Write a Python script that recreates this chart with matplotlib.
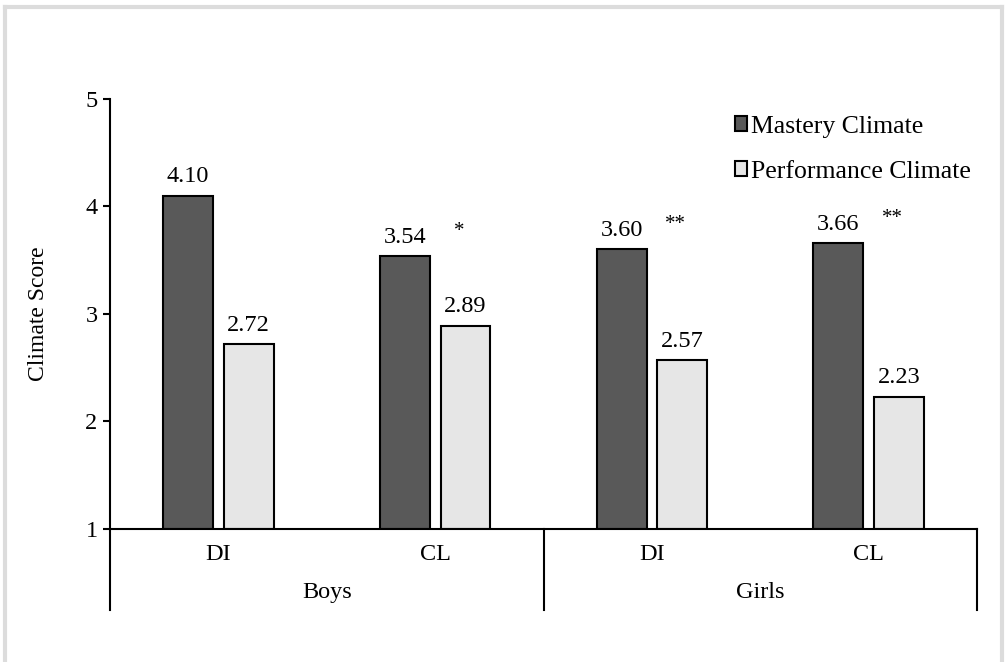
import matplotlib
matplotlib.use("Agg")
import matplotlib.pyplot as plt
from matplotlib.patches import Patch
from matplotlib.lines import Line2D
import numpy as np

plt.rcParams['font.family'] = ['Liberation Serif', 'DejaVu Serif']

# data
categories = ['DI', 'CL', 'DI', 'CL']
groups = ['Boys', 'Girls']
mastery = [4.10, 3.54, 3.60, 3.66]
performance = [2.72, 2.89, 2.57, 2.23]
stars = ['', '*', '**', '**']
series_names = ['Mastery Climate', 'Performance Climate']

dark = '#595959'
light = '#e6e6e6'
fs = 17.5

fig = plt.figure(figsize=(10.05, 6.62), dpi=100)
ax = fig.add_axes([0.1095, 0.2009, 0.8627, 0.6496])

x = np.arange(len(categories))
w = 0.23
ax.bar(x - 0.14, np.array(mastery) - 1, w, bottom=1, color=dark,
       edgecolor='black', linewidth=1.5)
ax.bar(x + 0.14, np.array(performance) - 1, w, bottom=1, color=light,
       edgecolor='black', linewidth=1.5)

for xi, m, p, s in zip(x, mastery, performance, stars):
    ax.annotate(f'{m:.2f}', (xi - 0.14, m), xytext=(0, 6),
                textcoords='offset points', ha='center', va='bottom', fontsize=fs)
    ax.annotate(f'{p:.2f}', (xi + 0.14, p), xytext=(0, 6),
                textcoords='offset points', ha='center', va='bottom', fontsize=fs)
    if s:
        ax.annotate(s, (xi + 0.11, m), xytext=(0, 11),
                    textcoords='offset points', ha='center', va='bottom', fontsize=15)

ax.set_xlim(-0.5, len(categories) - 0.5)
ax.set_ylim(1, 5)
ax.set_yticks([1, 2, 3, 4, 5])
ax.tick_params(axis='y', direction='out', length=5, width=1.5, pad=4, labelsize=fs)
ax.set_xticks([])
for side in ['top', 'right']:
    ax.spines[side].set_visible(False)
ax.spines['left'].set_linewidth(1.5)
ax.spines['bottom'].set_linewidth(1.5)
ax.set_ylabel('Climate Score', fontsize=17, labelpad=26)

# category / group table under the axis
trans = ax.get_xaxis_transform()
for xi, c in zip(x, categories):
    ax.text(xi, -0.06, c, transform=trans, ha='center', va='center', fontsize=fs)
for gi, g in enumerate(groups):
    ax.text(gi * 2 + 0.5, -0.147, g, transform=trans, ha='center', va='center', fontsize=fs)
for xv in [-0.5, 1.5, 3.5]:
    ax.add_line(Line2D([xv, xv], [0, -0.188], transform=trans, color='black',
                       linewidth=1.5, clip_on=False))

handles = [Patch(facecolor=dark, edgecolor='black', linewidth=1.5),
           Patch(facecolor=light, edgecolor='black', linewidth=1.5)]
ax.legend(handles, series_names, loc='upper right', bbox_to_anchor=(1.005, 0.985),
          frameon=False, fontsize=18.5, handlelength=0.5, handleheight=0.5,
          handletextpad=0.15, labelspacing=0.9, borderaxespad=0)

# light frame around the figure
fig.add_artist(Line2D([0.005, 0.005], [0, 0.989], color='#dcdcdc', linewidth=3))
fig.add_artist(Line2D([0.005, 0.997], [0.989, 0.989], color='#dcdcdc', linewidth=3))
fig.add_artist(Line2D([0.997, 0.997], [0, 0.989], color='#dcdcdc', linewidth=3))

fig.savefig('out.png', dpi=100)
